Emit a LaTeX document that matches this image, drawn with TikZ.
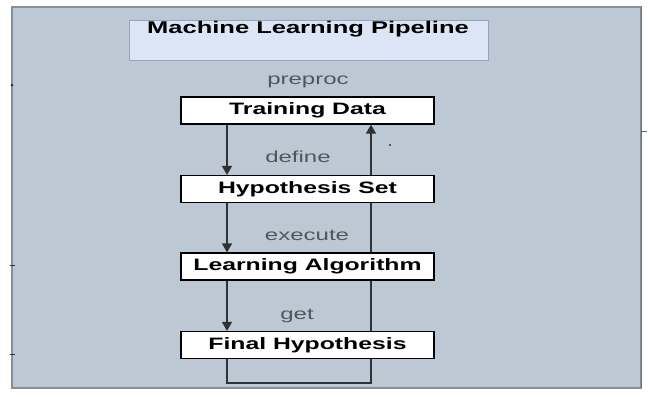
\documentclass[tikz,border=0pt]{standalone}
\usepackage{fontspec}
\setmainfont{Liberation Sans}
\newfontfamily\widefont[FakeStretch=1.5]{Liberation Sans}
\usetikzlibrary{arrows.meta,positioning}
\definecolor{panelfill}{HTML}{BCC8D3}
\definecolor{panelline}{HTML}{858F98}
\definecolor{titlefill}{HTML}{DCE5F5}
\definecolor{titleline}{HTML}{93A3C2}
\definecolor{labelgray}{HTML}{50565C}
\definecolor{arrowgray}{HTML}{2E3236}
\pgfdeclarelayer{bg}
\pgfdeclarelayer{conn}
\pgfsetlayers{bg,conn,main}
\begin{document}
\begin{tikzpicture}[x=1pt,y=-1pt,
	stagebox/.style={rectangle,draw=black,line width=1.2pt,fill=white,minimum width=253pt,minimum height=27pt,inner sep=0pt,font=\widefont\bfseries\fontsize{16.5}{19}\selectfont},
	steplabel/.style={font=\widefont\fontsize{16}{19}\selectfont,text=labelgray,inner sep=0pt},
	flow/.style={draw=arrowgray,line width=1.4pt,-{Triangle[length=9pt,width=10pt]}}]
	\useasboundingbox (0,0) rectangle (650,396);
	\begin{pgfonlayer}{bg}
	\fill[white] (0,0) rectangle (650,396);
	\draw[panelline,line width=1.5pt,fill=panelfill] (12,7) rectangle (641,388);
	\draw[panelline!80!black,line width=1pt] (641.5,7) -- (641.5,388);
	\end{pgfonlayer}
	% title
	\node[draw=titleline,line width=0.8pt,fill=titlefill,minimum width=359pt,minimum height=40pt] (titlebox) at (308.5,40) {};
	\node[font=\widefont\bfseries\fontsize{17}{20}\selectfont,inner sep=0pt] (title) at (308,29) {Machine Learning Pipeline};
	% stages
	\node[stagebox] (train) at (307.5,110.5) {Training Data};
	\node[stagebox] (hyp) at (307.5,189) {Hypothesis Set};
	\node[stagebox] (algo) at (307.5,266.5) {Learning Algorithm};
	\node[stagebox] (final) at (307.5,345) {Final Hypothesis};
	\node[steplabel] (lpre) at (308,82) {preproc};
	\node[steplabel] (ldef) at (298,157) {define};
	\node[steplabel] (lexe) at (307,235) {execute};
	\node[steplabel] (lget) at (297,316) {get};
	% connectors
	\coordinate (dnx) at (227,0);
	\coordinate (upx) at (371,0);
	\coordinate (loopy) at (0,383);
	\begin{pgfonlayer}{conn}
	\draw[flow] (train.south -| dnx) -- (hyp.north -| dnx);
	\draw[flow] (hyp.south -| dnx) -- (algo.north -| dnx);
	\draw[flow] (algo.south -| dnx) -- (final.north -| dnx);
	\draw[flow,line width=1.2pt] (final.south -| dnx) -- (loopy -| dnx) -- (loopy -| upx) -- (train.south -| upx);
	\end{pgfonlayer}
	% small marks
	\fill[arrowgray] (390,145) circle[radius=1.2pt];
	\fill[arrowgray] (12,85) circle[radius=1.5pt];
	\draw[arrowgray,line width=1pt] (10,265) -- (15,265);
	\draw[arrowgray,line width=1pt] (10,354) -- (15,354);
	\draw[panelline!70!black,line width=1pt] (641,131) -- (647,131);
\end{tikzpicture}
\end{document}
